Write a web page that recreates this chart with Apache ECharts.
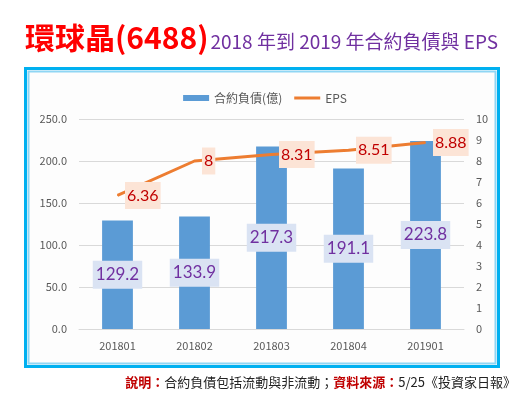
<!DOCTYPE html>
<html>
<head>
<meta charset="utf-8">
<script src="https://cdn.jsdelivr.net/npm/echarts@6/dist/echarts.min.js"></script>
<style>
  html, body { margin: 0; padding: 0; background: #fff; }
  #main { width: 530px; height: 397px; }
</style>
</head>
<body>
<div id="main"></div>
<script>
  // data
  const categories = ['201801', '201802', '201803', '201804', '201901'];
  const contractLiab = [129.2, 133.9, 217.3, 191.1, 223.8];
  const eps = [6.36, 8, 8.31, 8.51, 8.88];

  const cjk = '"Noto Sans CJK TC", "Noto Sans", sans-serif';
  const chart = echarts.init(document.getElementById('main'));

  const option = {
    backgroundColor: '#fff',
    textStyle: { fontFamily: cjk },
    title: {
      left: 20,
      top: 18,
      text: '{a|環球晶(6488)}{b|2018 年到 2019 年合約負債與 EPS}',
      textStyle: {
        rich: {
          a: { color: '#FF0000', fontSize: 30, fontWeight: 'bold', fontFamily: cjk, verticalAlign: 'bottom' },
          b: { color: '#7030A0', fontSize: 19, fontWeight: 'normal', fontFamily: cjk, verticalAlign: 'bottom', padding: [0, 0, 2, 2] }
        }
      }
    },
    graphic: [
      // outer blue frame
      { type: 'rect', shape: { x: 25.5, y: 68.5, width: 473, height: 298 }, style: { fill: 'none', stroke: '#00B0F0', lineWidth: 3 }, z: 0 },
      { type: 'rect', shape: { x: 28.5, y: 71.5, width: 467, height: 292 }, style: { fill: '#fdfdfd', stroke: '#8FD6F4', lineWidth: 2 }, z: -1 },
      {
        type: 'text', right: 14, bottom: 8,
        style: {
          text: '{r|說明：}{k|合約負債包括流動與非流動；}{r|資料來源：}{k|5/25《投資家日報》}',
          rich: {
            r: { fill: '#C00000', fontSize: 13, fontWeight: 'bold', fontFamily: cjk },
            k: { fill: '#222', fontSize: 13, fontFamily: cjk }
          }
        }
      }
    ],
    legend: {
      top: 87,
      left: 'center',
      itemWidth: 26,
      itemHeight: 6,
      itemGap: 12,
      symbolKeepAspect: true,
      textStyle: { color: '#595959', fontSize: 12, fontFamily: cjk },
      data: [
        { name: '合約負債(億)', icon: 'rect' },
        { name: 'EPS', icon: 'path://M0,0L26,0L26,3L0,3Z' }
      ]
    },
    grid: { left: 79, right: 66, top: 119, bottom: 68 },
    xAxis: {
      type: 'category',
      data: categories,
      axisTick: { show: false },
      axisLine: { lineStyle: { color: '#D9D9D9', width: 1 } },
      axisLabel: { color: '#595959', fontSize: 11, margin: 11 }
    },
    yAxis: [
      {
        type: 'value', min: 0, max: 250, interval: 50,
        axisLine: { show: false }, axisTick: { show: false },
        splitLine: { lineStyle: { color: '#D9D9D9' } },
        axisLabel: { color: '#595959', fontSize: 11, margin: 12, formatter: v => v.toFixed(1) }
      },
      {
        type: 'value', min: 0, max: 10, interval: 1,
        axisLine: { show: false }, axisTick: { show: false },
        splitLine: { show: false },
        axisLabel: { color: '#595959', fontSize: 11, margin: 12 }
      }
    ],
    series: [
      {
        name: '合約負債(億)',
        type: 'bar',
        data: contractLiab,
        barWidth: '40%',
        itemStyle: { color: '#5B9BD5' },
        label: {
          show: true, position: 'inside',
          color: '#7030A0', fontSize: 17, fontFamily: 'Lato, sans-serif',
          backgroundColor: '#DAE3F3', padding: [6, 3, 5, 3]
        },
        z: 2
      },
      {
        name: 'EPS',
        type: 'line',
        yAxisIndex: 1,
        data: eps,
        symbol: 'circle',
        symbolSize: 1,
        showSymbol: true,
        lineStyle: { color: '#ED7D31', width: 3 },
        itemStyle: { color: '#ED7D31' },
        label: {
          show: true, position: 'right', distance: 7,
          color: '#C00000', fontSize: 16, fontFamily: 'Lato, sans-serif',
          backgroundColor: '#FCE4D6', padding: [6, 2, 5, 2]
        },
        z: 3
      }
    ]
  };

  chart.setOption(option);
</script>
</body>
</html>
